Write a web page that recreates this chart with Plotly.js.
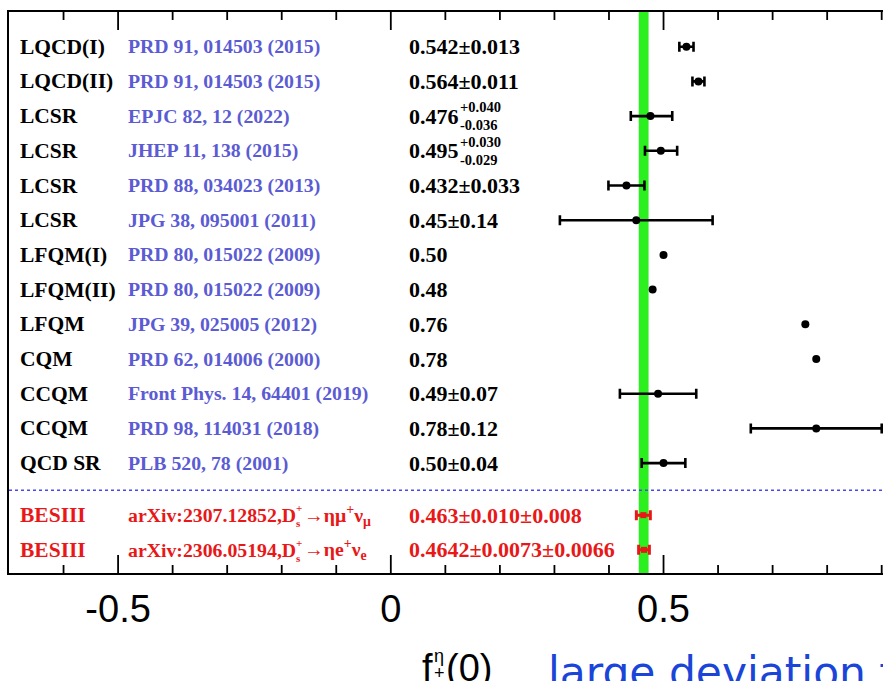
<!DOCTYPE html>
<html>
<head>
<meta charset="utf-8">
<script src="https://cdn.plot.ly/plotly-3.0.1.min.js"></script>
<style>html,body{margin:0;padding:0;background:#fff;}#chart{width:883px;height:681px;}</style>
</head>
<body>
<div id="chart"></div>
<script>
// ---------------- data ----------------
const methods = ["LQCD(I)","LQCD(II)","LCSR","LCSR","LCSR","LCSR","LFQM(I)","LFQM(II)","LFQM","CQM","CCQM","CCQM","QCD SR"];
const references = ["PRD 91, 014503 (2015)","PRD 91, 014503 (2015)","EPJC 82, 12 (2022)","JHEP 11, 138 (2015)","PRD 88, 034023 (2013)","JPG 38, 095001 (2011)","PRD 80, 015022 (2009)","PRD 80, 015022 (2009)","JPG 39, 025005 (2012)","PRD 62, 014006 (2000)","Front Phys. 14, 64401 (2019)","PRD 98, 114031 (2018)","PLB 520, 78 (2001)"];
const centralValues = [0.542,0.564,0.476,0.495,0.432,0.45,0.50,0.48,0.76,0.78,0.49,0.78,0.50];
const errorsPlus  = [0.013,0.011,0.040,0.030,0.033,0.14,null,null,null,null,0.07,0.12,0.04];
const errorsMinus = [0.013,0.011,0.036,0.029,0.033,0.14,null,null,null,null,0.07,0.12,0.04];
const valueLabels = ["0.542±0.013","0.564±0.011","0.476","0.495","0.432±0.033","0.45±0.14","0.50","0.48","0.76","0.78","0.49±0.07","0.78±0.12","0.50±0.04"];
const valueSup = [null,null,"+0.040","+0.030",null,null,null,null,null,null,null,null,null];
const valueSub = [null,null,"-0.036","-0.029",null,null,null,null,null,null,null,null,null];

const besNames = ["BESIII","BESIII"];
const besArxiv = ["arXiv:2307.12852,D","arXiv:2306.05194,D"];
const besChannel = ["→ημ<sup>+</sup>ν<sub>μ</sub>","→ηe<sup>+</sup>ν<sub>e</sub>"];
const besValues = [0.463,0.4642];
const besStat = [0.010,0.0073];
const besSyst = [0.008,0.0066];
const besLabels = ["0.463±0.010±0.008","0.4642±0.0073±0.0066"];

const bandCenter = 0.4636;
const bandHalfWidth = 0.009;

const xTickVals = [-0.5,0,0.5];
const xTickText = ["-0.5","0","0.5"];
const xMinorTickVals = [-0.6,-0.4,-0.3,-0.2,-0.1,0.1,0.2,0.3,0.4,0.6,0.7,0.8,0.9];

// ---------------- layout helpers ----------------
const W = 883, H = 681;
const M = {l:9, r:0, t:12, b:108};
const PW = W - M.l - M.r, PH = H - M.t - M.b;
const ROW_PX = 34.7;
const Y_BOTTOM = PH / ROW_PX;
const px = v => (v - M.l) / PW;
const py = v => (H - M.b - v) / PH;
const rowY = i => (i < 13 ? i + 1 : i + 1.5);

const SERIF = "Liberation Serif, Times New Roman, serif";
const SANS = "Liberation Sans, Arial, Helvetica, sans-serif";
const cvs = document.createElement('canvas').getContext('2d');
function tw(text, size, family, bold){
  cvs.font = (bold ? 'bold ' : '') + size + 'px "' + family.split(',')[0].trim() + '"';
  return cvs.measureText(text).width;
}

const NAME_SIZE = 21.5, REF_SIZE = 19.8, VAL_SIZE = 22, SUP_SIZE = 14.5;
const X_NAME = 19, X_REF = 127, X_VAL = 408;
const BLUE_REF = "#5b5bd4", RED = "#e81818";

const annotations = [];
function ann(o){ annotations.push(Object.assign({showarrow:false, xref:'paper', yref:'y', xanchor:'left', yanchor:'middle', borderpad:0}, o)); }

methods.forEach((m,i) => {
  const y = rowY(i);
  ann({x:px(X_NAME), y, text:'<b>'+m+'</b>', font:{family:SERIF, size:NAME_SIZE, color:'#000'}});
  ann({x:px(X_REF), y, text:'<b>'+references[i]+'</b>', font:{family:SERIF, size:REF_SIZE, color:BLUE_REF}});
  ann({x:px(X_VAL), y, text:'<b>'+valueLabels[i]+'</b>', font:{family:SERIF, size:VAL_SIZE, color:'#000'}});
  if (valueSup[i]) {
    const w = tw(valueLabels[i], VAL_SIZE, SERIF, true);
    ann({x:px(X_VAL + w + 1), y, yshift:9, text:'<b>'+valueSup[i]+'</b>', font:{family:SERIF, size:SUP_SIZE, color:'#000'}});
    ann({x:px(X_VAL + w + 1), y, yshift:-9, text:'<b>'+valueSub[i]+'</b>', font:{family:SERIF, size:SUP_SIZE, color:'#000'}});
  }
});
besNames.forEach((n,k) => {
  const i = 13 + k, y = rowY(i);
  ann({x:px(X_NAME), y, text:'<b>'+n+'</b>', font:{family:SERIF, size:NAME_SIZE, color:RED}});
  ann({x:px(X_REF), y, text:'<b>'+besArxiv[k]+'</b>', font:{family:SERIF, size:REF_SIZE, color:RED}});
  const w1 = tw(besArxiv[k], REF_SIZE, SERIF, true);
  ann({x:px(X_REF + w1), y, yshift:7, text:'<b>+</b>', font:{family:SERIF, size:11, color:RED}});
  ann({x:px(X_REF + w1), y, yshift:-8, text:'<b>s</b>', font:{family:SERIF, size:11, color:RED}});
  ann({x:px(X_REF + w1 + 8), y, text:'<b>'+besChannel[k]+'</b>', font:{family:SERIF, size:REF_SIZE, color:RED}});
  ann({x:px(X_VAL), y, text:'<b>'+besLabels[k]+'</b>', font:{family:SERIF, size:VAL_SIZE, color:RED}});
});

// axis title f_+^eta(0)
const TSIZE = 38, TX = 421, TTOP = 646;
const wf = tw('f', TSIZE, SANS, false);
annotations.push({showarrow:false, xref:'paper', yref:'paper', xanchor:'left', yanchor:'top', borderpad:0,
  x:px(TX), y:py(TTOP), text:'f', font:{family:SANS, size:TSIZE, color:'#000'}});
annotations.push({showarrow:false, xref:'paper', yref:'paper', xanchor:'left', yanchor:'middle', borderpad:0,
  x:px(TX + wf + 1), y:py(656), text:'η', font:{family:SANS, size:18, color:'#000'}});
annotations.push({showarrow:false, xref:'paper', yref:'paper', xanchor:'left', yanchor:'middle', borderpad:0,
  x:px(TX + wf + 1), y:py(673), text:'+', font:{family:SANS, size:18, color:'#000'}});
annotations.push({showarrow:false, xref:'paper', yref:'paper', xanchor:'left', yanchor:'top', borderpad:0,
  x:px(TX + wf + 13), y:py(TTOP), text:'(0)', font:{family:SANS, size:TSIZE, color:'#000'}});
// overlay note
annotations.push({showarrow:false, xref:'paper', yref:'paper', xanchor:'left', yanchor:'top', borderpad:0,
  x:px(547), y:py(647), text:'large deviation from', font:{family:'DejaVu Sans, sans-serif', size:42.4, color:'#1a45d8'}});

const shapes = [
  {type:'rect', xref:'x', yref:'paper', x0:bandCenter-bandHalfWidth, x1:bandCenter+bandHalfWidth, y0:0, y1:1,
   fillcolor:'#2cef1f', line:{width:0}, layer:'below'},
  {type:'line', xref:'paper', yref:'y', x0:0, x1:1, y0:13.78, y1:13.78, line:{color:'#4848ee', width:1.5, dash:'dot'}}
];

// ---------------- tick marks (drawn from the tick value arrays through the axes) ----------------
function tickPath(vals, lenPx){
  const L = lenPx / ROW_PX, xs = [], ys = [];
  vals.forEach(v => {
    xs.push(v, v, null, v, v, null);
    ys.push(Y_BOTTOM, Y_BOTTOM - L, null, 0, L, null);
  });
  return {xs, ys};
}
const majT = tickPath(xTickVals, 18), minT = tickPath(xMinorTickVals, 8);

// ---------------- traces ----------------
const withErr = centralValues.map((v,i)=>i).filter(i => errorsPlus[i] !== null);
const noErr = centralValues.map((v,i)=>i).filter(i => errorsPlus[i] === null);
const besTotal = besStat.map((s,k) => Math.sqrt(s*s + besSyst[k]*besSyst[k]));

const traces = [
  {type:'scatter', mode:'lines', x:majT.xs.concat(minT.xs), y:majT.ys.concat(minT.ys),
   line:{color:'#000', width:1.8}, connectgaps:false, hoverinfo:'skip', showlegend:false},
  {type:'scatter', mode:'markers', x:withErr.map(i=>centralValues[i]), y:withErr.map(i=>rowY(i)),
   marker:{color:'#000', size:8},
   error_x:{type:'data', symmetric:false, array:withErr.map(i=>errorsPlus[i]), arrayminus:withErr.map(i=>errorsMinus[i]), color:'#000', thickness:2.6, width:5},
   hoverinfo:'x', showlegend:false},
  {type:'scatter', mode:'markers', x:noErr.map(i=>centralValues[i]), y:noErr.map(i=>rowY(i)),
   marker:{color:'#000', size:8}, hoverinfo:'x', showlegend:false},
  {type:'scatter', mode:'markers', x:besValues, y:besValues.map((v,k)=>rowY(13+k)),
   marker:{color:RED, size:6, symbol:'square'},
   error_x:{type:'data', array:besTotal, color:RED, thickness:3, width:5},
   hoverinfo:'x', showlegend:false}
];

const xMax = -0.7 + PW / ((881.7 - 9) / 1.6);
const layout = {
  width:W, height:H, margin:M, paper_bgcolor:'#fff', plot_bgcolor:'#fff', showlegend:false,
  xaxis:{range:[-0.7, xMax], showgrid:false, zeroline:false, showline:true, linecolor:'#000', linewidth:2,
    mirror:true, ticks:'', tickmode:'array', tickvals:xTickVals, ticktext:xTickText,
    tickfont:{family:SANS, size:38, color:'#000'}, ticklabelstandoff:1},
  yaxis:{range:[Y_BOTTOM, 0], showgrid:false, zeroline:false, showline:true, linecolor:'#000', linewidth:2,
    mirror:false, ticks:'', showticklabels:false},
  shapes,
  annotations
};

Plotly.newPlot('chart', traces, layout, {staticPlot:true});
</script>
</body>
</html>
